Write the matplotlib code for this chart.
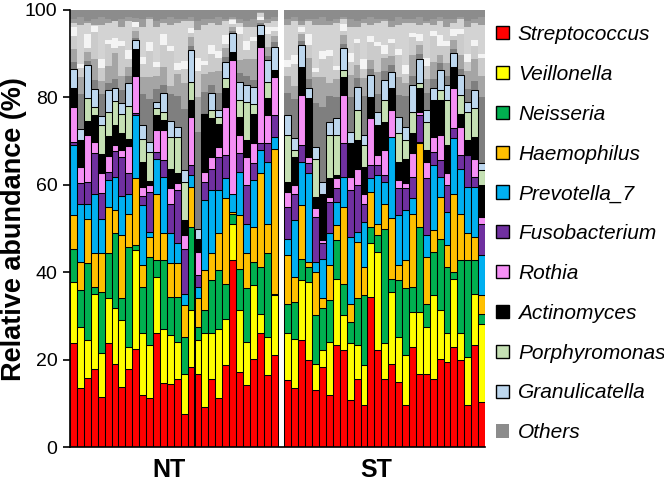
import numpy as np
import matplotlib
matplotlib.use("Agg")
import matplotlib.pyplot as plt
from matplotlib.patches import Patch

plt.rcParams['font.family'] = ['Liberation Sans', 'DejaVu Sans']

groups = ["NT", "ST"]
n_nt, n_st = 30, 29

genera = ["Streptococcus", "Veillonella", "Neisseria", "Haemophilus", "Prevotella_7",
          "Fusobacterium", "Rothia", "Actinomyces", "Porphyromonas", "Granulicatella"]
colors = ["#ff0000", "#ffff00", "#00b050", "#ffc000", "#00b0f0",
          "#7030a0", "#f58ff5", "#000000", "#c5e0b4", "#bdd7ee"]

# relative abundance (%) per sample: 30 NT samples followed by 29 ST samples
streptococcus = [23.7, 13.6, 15.9, 17.9, 11.5, 23.7, 19.1, 13.7, 17.8, 22.5, 11.8, 11.1, 26.0, 14.7, 14.5,
                 15.6, 7.6, 18.3, 16.8, 9.2, 15.6, 11.1, 18.7, 42.7, 17.2, 14.1, 20.2, 26.0, 16.4, 21.0,
                 15.3, 13.4, 24.4, 19.8, 13.0, 18.3, 11.8, 23.3, 22.1, 10.7, 15.6, 9.5, 34.4, 22.1, 15.6,
                 19.1, 14.9, 9.5, 22.9, 16.8, 16.8, 15.6, 20.2, 19.5, 22.9, 19.8, 9.5, 23.3, 10.3]
veillonella = [14.1, 13.9, 8.5, 17.2, 9.9, 10.3, 12.6, 15.3, 5.1, 22.5, 14.2, 12.2, 12.9, 12.4, 11.1,
               8.4, 9.2, 13.0, 7.6, 16.8, 10.4, 16.0, 10.7, 8.4, 14.1, 9.9, 16.8, 4.5, 8.8, 13.7,
               10.7, 11.4, 13.8, 18.0, 6.1, 3.8, 12.2, 15.2, 8.1, 13.0, 7.7, 9.2, 12.2, 22.6, 8.1,
               16.4, 10.3, 11.5, 8.0, 14.1, 10.7, 19.1, 11.1, 6.5, 15.6, 6.2, 11.1, 11.8, 17.9]
neisseria = [7.6, 8.4, 17.6, 1.4, 14.1, 10.3, 17.2, 5.0, 22.9, 1.2, 10.6, 20.2, 3.8, 15.6, 8.8,
             10.4, 8.4, 19.1, 3.1, 5.3, 12.2, 13.4, 8.0, 2.3, 9.5, 12.3, 5.4, 10.7, 19.1, 0.4,
             6.8, 8.4, 4.9, 3.4, 11.1, 9.6, 9.6, 8.8, 7.2, 4.9, 10.7, 16.0, 3.8, 3.8, 26.3,
             3.0, 13.0, 15.3, 5.7, 19.5, 5.3, 10.0, 16.4, 15.2, 1.6, 16.7, 22.1, 7.6, 2.3]
haemophilus = [7.8, 6.5, 10.1, 7.8, 8.9, 10.7, 5.3, 14.6, 7.6, 15.3, 5.0, 4.6, 15.3, 6.2, 7.6,
               7.6, 7.2, 9.1, 6.5, 9.2, 6.1, 8.4, 19.5, 0.4, 12.3, 8.0, 8.0, 21.4, 6.8, 33.2,
               11.1, 5.7, 12.2, 1.2, 9.9, 2.3, 8.0, 3.5, 17.6, 4.2, 12.9, 6.5, 8.0, 2.6, 5.7,
               13.8, 3.4, 6.4, 16.8, 19.1, 10.7, 4.9, 9.6, 5.0, 17.9, 10.7, 6.2, 5.4, 4.2]
prevotella_7 = [15.9, 13.2, 3.5, 13.6, 7.7, 6.1, 7.6, 8.8, 4.5, 14.5, 13.7, 1.1, 8.0, 12.9, 6.9,
                4.6, 2.7, 2.7, 2.6, 16.0, 14.5, 9.9, 4.6, 4.2, 9.9, 6.8, 10.7, 5.3, 14.2, 2.7,
                3.8, 13.0, 10.0, 20.2, 2.3, 9.1, 7.3, 5.3, 6.8, 15.3, 2.3, 10.3, 3.1, 11.1, 5.0,
                18.7, 11.5, 11.5, 3.5, 0.4, 5.0, 14.9, 4.5, 7.6, 12.6, 10.3, 10.6, 11.4, 9.2]
fusobacterium = [0.7, 4.9, 5.1, 9.3, 6.1, 1.9, 6.0, 9.0, 4.7, 0.5, 2.1, 9.2, 1.6, 3.8, 6.8,
                 12.2, 10.3, 2.3, 2.7, 4.2, 4.9, 7.6, 5.3, 0.0, 4.2, 8.8, 3.8, 1.6, 4.2, 5.0,
                 7.3, 6.1, 3.8, 2.3, 10.3, 3.5, 7.2, 3.1, 7.7, 10.7, 10.7, 4.2, 3.0, 2.3, 1.5,
                 0.0, 6.1, 5.0, 4.9, 6.1, 13.0, 3.1, 3.8, 6.1, 2.3, 3.1, 7.3, 2.3, 7.2]
rothia = [8.1, 3.6, 10.7, 2.6, 4.4, 3.6, 1.2, 1.5, 6.3, 8.4, 2.1, 1.5, 4.9, 6.9, 3.5,
          1.5, 3.1, 11.1, 5.4, 2.3, 2.7, 2.3, 11.1, 30.5, 4.2, 6.5, 4.6, 22.1, 6.5, 8.7,
          3.4, 1.9, 11.4, 1.5, 1.9, 0.7, 1.2, 2.3, 11.0, 3.0, 3.8, 2.3, 10.7, 2.3, 5.7,
          6.1, 1.9, 1.1, 5.4, 0.7, 3.8, 3.4, 5.8, 2.7, 9.2, 6.5, 0.0, 4.2, 1.6]
actinomyces = [4.2, 6.1, 3.3, 6.2, 4.4, 4.5, 4.6, 3.9, 1.6, 6.1, 5.8, 1.0, 3.5, 2.3, 4.5,
               2.3, 3.4, 3.8, 3.0, 13.3, 8.8, 5.3, 4.2, 2.0, 4.2, 3.8, 6.8, 2.7, 3.8, 1.6,
               2.3, 6.5, 6.5, 13.4, 2.7, 10.7, 4.2, 0.7, 4.2, 7.7, 6.5, 6.1, 5.0, 6.9, 6.5,
               5.0, 4.2, 5.7, 4.6, 5.4, 2.6, 8.4, 8.0, 6.5, 4.9, 3.0, 3.4, 5.0, 7.3]
porphyromonas = [0.0, 0.0, 5.1, 1.9, 6.7, 5.6, 5.6, 4.5, 7.6, 0.0, 5.2, 6.5, 1.5, 1.9, 7.3,
                 8.4, 8.8, 4.2, 0.0, 0.0, 1.9, 1.6, 2.3, 0.0, 3.8, 8.8, 2.3, 0.0, 3.8, 0.0,
                 10.7, 1.5, 0.0, 0.0, 8.7, 0.0, 9.9, 9.2, 1.6, 0.0, 6.9, 5.0, 0.0, 0.0, 5.0,
                 0.0, 6.5, 4.2, 4.9, 1.1, 6.5, 0.0, 2.3, 10.3, 0.0, 4.2, 6.5, 6.5, 3.5]
granulicatella = [4.5, 2.5, 7.6, 4.0, 2.0, 5.0, 3.0, 2.5, 5.3, 2.2, 3.2, 2.3, 1.5, 4.2, 3.7,
                  2.3, 2.7, 7.2, 2.3, 0.0, 3.8, 1.5, 3.8, 4.2, 4.2, 3.8, 3.8, 2.3, 4.9, 5.3,
                  4.6, 2.7, 5.0, 2.3, 2.7, 2.7, 3.0, 3.8, 4.9, 2.6, 5.3, 2.3, 4.9, 3.0, 4.6,
                  3.8, 3.8, 3.1, 6.1, 5.7, 2.7, 2.7, 4.6, 3.4, 3.1, 4.6, 2.3, 4.2, 1.5]

# minor genera grouped as "Others" (grey shades), stacked in this order
others_dark = [1.5, 8, 1, 2, 5, 1.5, 2, 3, 1.5, 0.5, 7, 10, 3, 2, 6, 7, 14, 1, 22, 5, 2, 4, 1, 0.5, 2, 2, 1.5, 0.5, 1, 1,
               5, 9, 1, 2, 10, 17, 6, 5, 1, 8, 2, 9, 1.5, 4, 2, 1.5, 5, 7, 2, 1, 4, 2, 1.5, 2, 1, 1.5, 3, 2, 15]
others_mid = [3, 4, 2, 5, 3, 4, 6, 3, 2, 1.5, 4, 5, 3, 4, 2, 5, 6, 2, 8, 4, 3, 5, 2, 1, 3, 4, 5, 0.5, 2, 1.5,
              4, 3, 1.5, 5, 6, 7, 3, 4, 2, 5, 3, 4, 2, 5, 3, 2, 4, 3, 5, 2, 3, 4, 2, 3, 2, 3, 4, 5, 5]
others_light_a = [3, 2, 1, 6, 3, 5, 1, 7, 2, 1, 3, 6, 2, 5, 8, 1, 3, 1, 6, 2, 4, 3, 1, 0.5, 6, 2, 4, 0.2, 3, 1,
                  2, 5, 0.5, 3, 1, 4, 6, 2, 1, 3, 5, 2, 4, 6, 1, 3, 5, 2, 4, 1, 3, 6, 2, 4, 1, 5, 2, 3, 4]
others_white = [2, 1, 3, 1.5, 2, 1, 2.5, 1, 2, 1, 1.5, 2, 1, 2.5, 1, 1.5, 2, 1, 3, 1, 2, 1.5, 2, 1, 1.5, 2, 1, 0.5, 1.5, 1,
                1.5, 2, 1, 2.5, 1, 2, 1.5, 1, 1.5, 2, 1, 2.5, 1.5, 1, 2, 1, 1.5, 2, 1, 1.5, 2, 1, 2.5, 1, 1.5, 1, 2, 1.5, 1]
others_mid2 = [1, 2, 0.5, 1.5, 2, 1, 0, 2, 1, 1, 2, 0.5, 1.5, 1, 2, 1, 0.5, 1, 2, 1.5, 1, 2, 0.5, 0.5, 1, 1.5, 2, 0.2, 1, 1,
               1.5, 1, 1, 0.5, 1.5, 2, 1, 1, 0.5, 2, 1.5, 1, 2, 1, 0.5, 1.5, 2, 1, 1, 2, 0.5, 1.5, 1, 2, 1, 0.5, 1.5, 1, 2]
others_top = [2, 1.5, 2.5, 2, 1.5, 2, 2.5, 2, 1.5, 2, 2, 1.5, 2.5, 2, 1.5, 2, 2, 1.5, 2.5, 2, 2, 1.5, 2, 1.5, 2, 2.5, 2, 0.4, 2, 1.5,
              2, 1.5, 2.5, 2, 2, 1.5, 2.5, 2, 1.5, 2, 2.5, 2, 1.5, 2, 2, 2.5, 1.5, 2, 2, 1.5, 2.5, 2, 1.5, 2, 2, 1.5, 2.5, 2, 1.5]

series = [streptococcus, veillonella, neisseria, haemophilus, prevotella_7,
          fusobacterium, rothia, actinomyces, porphyromonas, granulicatella]

W, H = 664, 483
fig = plt.figure(figsize=(W / 100, H / 100), dpi=100)
ax = fig.add_axes([70 / W, 1 - 447 / H, (485 - 70) / W, (447 - 10) / H])

x = np.concatenate([np.arange(n_nt), np.arange(n_nt + 1, n_nt + 1 + n_st)])
bottom = np.zeros(len(x))
for vals, col in zip(series, colors):
    v = np.array(vals, dtype=float)
    ax.bar(x, v, width=1.0, bottom=bottom, color=col, edgecolor='black', linewidth=0.75, zorder=3)
    bottom += v

typed = [others_dark, others_mid, others_light_a, others_white, others_mid2, others_top]
known = bottom + np.sum([np.array(t, dtype=float) for t in typed], axis=0)
others_light_b = np.clip(100 - known, 0, None)  # remaining minor genera
grey_layers = [(others_dark, "#7f7f7f"), (others_mid, "#a5a5a5"), (others_light_a, "#cbcbcb"),
               (others_white, "#f4f4f4"), (others_light_b, "#d3d3d3"), (others_mid2, "#9c9c9c"),
               (others_top, "#8c8c8c")]
for vals, col in grey_layers:
    v = np.array(vals, dtype=float)
    ax.bar(x, v, width=1.02, bottom=bottom, color=col, linewidth=0, antialiased=False, zorder=2)
    bottom += v

ax.set_xlim(-0.5, n_nt + n_st + 0.5)
ax.set_ylim(0, 100)
ax.set_yticks([0, 20, 40, 60, 80, 100])
ax.tick_params(axis='y', direction='out', length=5, width=1.2, labelsize=14, pad=4)
ax.set_xticks([13.8, 43.8])
ax.set_xticklabels(groups, fontsize=18, fontweight='bold')
ax.tick_params(axis='x', length=0, pad=8)
for s in ['top', 'right']:
    ax.spines[s].set_visible(False)
for s in ['left', 'bottom']:
    ax.spines[s].set_linewidth(1.2)
    ax.spines[s].set_zorder(4)

fig.text(21 / W, 1 - 229 / H, "Relative abundance (%)", rotation=90, rotation_mode='anchor',
         ha='center', va='baseline', fontsize=19.5, fontweight='bold')

handles = [Patch(facecolor=c, edgecolor='black', linewidth=1.0) for c in colors]
handles.append(Patch(facecolor='#8c8c8c', edgecolor='none'))
labels = genera + ["Others"]
fig.legend(handles, labels, loc='upper left', bbox_to_anchor=(496 / W, 1 - 25 / H),
           frameon=False, prop={'style': 'italic', 'size': 15},
           handlelength=0.6, handleheight=0.6, handletextpad=0.45,
           labelspacing=1.0, borderpad=0, borderaxespad=0)

fig.savefig("out.png", dpi=100)
